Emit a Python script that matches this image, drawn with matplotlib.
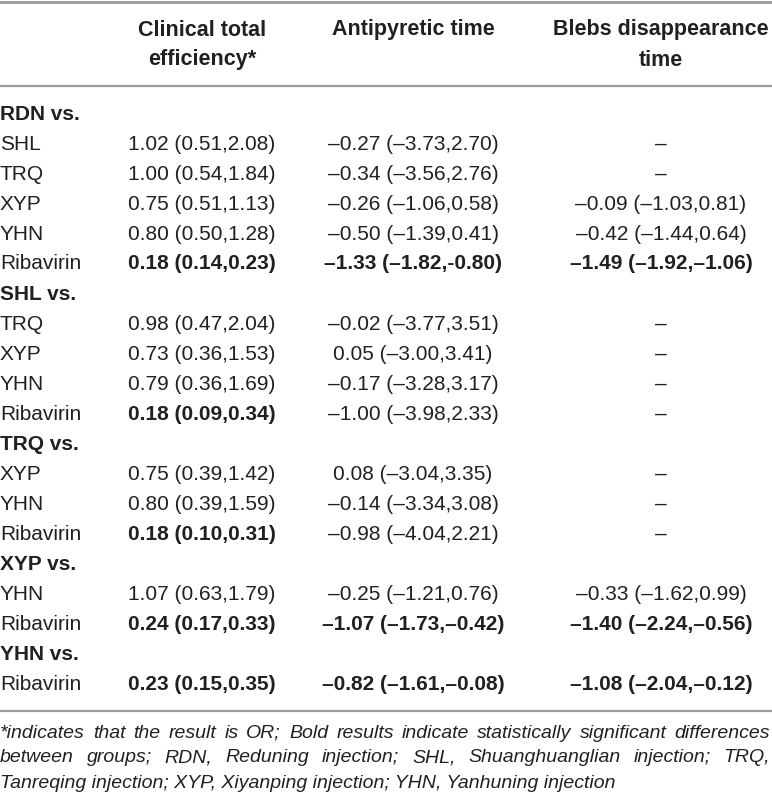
import matplotlib
matplotlib.use("Agg")
import matplotlib.pyplot as plt
from matplotlib.lines import Line2D

# table contents
col_headers = [["Clinical total", "efficiency*"], ["Antipyretic time"], ["Blebs disappearance", "time"]]

row_labels = ["RDN vs.", "SHL", "TRQ", "XYP", "YHN", "Ribavirin",
              "SHL vs.", "TRQ", "XYP", "YHN", "Ribavirin",
              "TRQ vs.", "XYP", "YHN", "Ribavirin",
              "XYP vs.", "YHN", "Ribavirin",
              "YHN vs.", "Ribavirin"]

efficiency = ["", "1.02 (0.51,2.08)", "1.00 (0.54,1.84)", "0.75 (0.51,1.13)", "0.80 (0.50,1.28)", "0.18 (0.14,0.23)",
              "", "0.98 (0.47,2.04)", "0.73 (0.36,1.53)", "0.79 (0.36,1.69)", "0.18 (0.09,0.34)",
              "", "0.75 (0.39,1.42)", "0.80 (0.39,1.59)", "0.18 (0.10,0.31)",
              "", "1.07 (0.63,1.79)", "0.24 (0.17,0.33)",
              "", "0.23 (0.15,0.35)"]

antipyretic = ["", "–0.27 (–3.73,2.70)", "–0.34 (–3.56,2.76)", "–0.26 (–1.06,0.58)", "–0.50 (–1.39,0.41)", "–1.33 (–1.82,-0.80)",
               "", "–0.02 (–3.77,3.51)", "0.05 (–3.00,3.41)", "–0.17 (–3.28,3.17)", "–1.00 (–3.98,2.33)",
               "", "0.08 (–3.04,3.35)", "–0.14 (–3.34,3.08)", "–0.98 (–4.04,2.21)",
               "", "–0.25 (–1.21,0.76)", "–1.07 (–1.73,–0.42)",
               "", "–0.82 (–1.61,–0.08)"]

blebs = ["", "–", "–", "–0.09 (–1.03,0.81)", "–0.42 (–1.44,0.64)", "–1.49 (–1.92,–1.06)",
         "", "–", "–", "–", "–",
         "", "–", "–", "–",
         "", "–0.33 (–1.62,0.99)", "–1.40 (–2.24,–0.56)",
         "", "–1.08 (–2.04,–0.12)"]

# significant cells (printed bold)
sig_eff = [5, 10, 14, 17, 19]
sig_anti = [5, 17, 19]
sig_blebs = [5, 17, 19]

foot_lines = ["*indicates that the result is OR; Bold results indicate statistically significant differences",
              "between groups; RDN, Reduning injection; SHL, Shuanghuanglian injection; TRQ,",
              "Tanreqing injection; XYP, Xiyanping injection; YHN, Yanhuning injection"]

W, H = 772, 801
FONT = "Liberation Sans"
TXT = "#231f20"
FS = 15

fig = plt.figure(figsize=(W / 100, H / 100), dpi=100)
fig.patch.set_facecolor("white")


def put(x, y, s, size=FS, **kw):
    return fig.text(x / W, 1 - y / H, s, family=FONT, color=TXT, fontsize=size, va="center", **kw)


def hline(y, lw, c):
    fig.add_artist(Line2D([0, 1], [1 - y / H] * 2, color=c, lw=lw, transform=fig.transFigure))


hline(1.5, 2.0, "#9b9b9b")
hline(86, 1.6, "#9b9b9b")
hline(711, 1.6, "#9b9b9b")

col_x = [202, 413, 661]
for cx, lines in zip(col_x, col_headers):
    for j, h in enumerate(lines):
        put(cx, 30 + 30 * j, h, size=15.5, ha="center", weight="bold")

y0, dy = 114, 30.0
for i, lab in enumerate(row_labels):
    y = y0 + i * dy
    is_sec = lab.endswith("vs.")
    put(0, y, lab, ha="left", weight="bold" if is_sec else "normal")
    for cx, vals, sig in zip(col_x, [efficiency, antipyretic, blebs], [sig_eff, sig_anti, sig_blebs]):
        if vals[i]:
            put(cx, y, vals[i], ha="center", weight="bold" if i in sig else "normal")

# footnote, first two lines justified
fig.canvas.draw()
r = fig.canvas.get_renderer()
foot_y = [733, 758, 783]
for k, line in enumerate(foot_lines):
    if k < 2:
        words = line.split(" ")
        arts = [put(0, foot_y[k], w, size=14, ha="left", style="italic") for w in words]
        widths = [a.get_window_extent(r).width for a in arts]
        gap = (770 - sum(widths)) / (len(words) - 1)
        x = 0
        for a, w in zip(arts, widths):
            a.set_x(x / W)
            x += w + gap
    else:
        put(0, foot_y[k], line, size=14, ha="left", style="italic")

fig.savefig("out.png", dpi=100)
